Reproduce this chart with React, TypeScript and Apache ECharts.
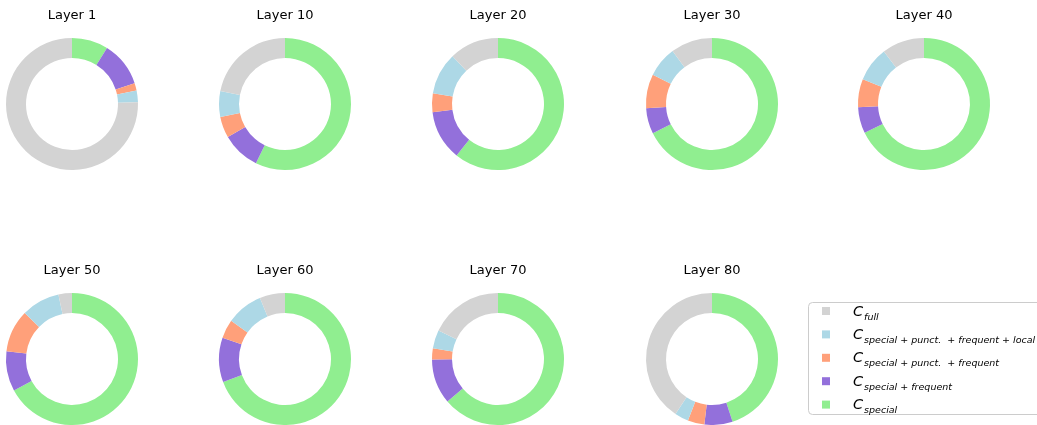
import React, { useEffect, useRef } from "react";
import * as echarts from "echarts";

const layers = ["Layer 1", "Layer 10", "Layer 20", "Layer 30", "Layer 40", "Layer 50", "Layer 60", "Layer 70", "Layer 80"];
const special = [8.9, 57.2, 60.8, 67.7, 67.8, 67.1, 69.4, 63.9, 45.0];
const specialFrequent = [11.0, 9.4, 12.2, 6.3, 6.4, 9.8, 10.9, 11.0, 6.9];
const specialPunctFrequent = [1.8, 5.2, 4.6, 8.3, 6.9, 10.4, 4.6, 2.7, 4.1];
const specialPunctFrequentLocal = [2.9, 6.3, 10.3, 7.5, 8.5, 9.4, 9.0, 4.5, 3.4];
const full = [75.4, 21.8, 12.1, 10.2, 10.4, 3.3, 6.2, 17.9, 40.7];

const categoryNames = ["special", "special+frequent", "special+punct.+frequent", "special+punct.+frequent+local", "full"];
const subscripts: Record<string, string> = {
  "special": "special",
  "special+frequent": "special + frequent",
  "special+punct.+frequent": "special + punct.  + frequent",
  "special+punct.+frequent+local": "special + punct.  + frequent + local",
  "full": "full",
};
const legendOrder = ["full", "special+punct.+frequent+local", "special+punct.+frequent", "special+frequent", "special"];
const colors = ["#90ee90", "#9370db", "#ffa07a", "#add8e6", "#d3d3d3"];

const colX = [72, 285, 498, 712, 924];
const rowY = [104, 359];

export default function App() {
  const ref = useRef<HTMLDivElement>(null);
  useEffect(() => {
    if (!ref.current) return;
    const chart = echarts.init(ref.current, undefined, { renderer: "svg" });
    const seriesValues = [special, specialFrequent, specialPunctFrequent, specialPunctFrequentLocal, full];
    const series: any[] = [];
    const titles: any[] = [];
    layers.forEach((layer, i) => {
      const cx = colX[i % 5];
      const cy = rowY[Math.floor(i / 5)];
      titles.push({
        text: layer,
        left: cx,
        top: cy - 96,
        textAlign: "center",
        padding: 0,
        textStyle: { fontFamily: "DejaVu Sans", fontSize: 13, fontWeight: "normal", color: "#000" },
      });
      series.push({
        type: "pie",
        center: [cx, cy],
        radius: [46, 66],
        startAngle: 90,
        clockwise: true,
        label: { show: false },
        labelLine: { show: false },
        emphasis: { disabled: true },
        itemStyle: { borderWidth: 0 },
        data: categoryNames.map((n, k) => ({ name: n, value: seriesValues[k][i], itemStyle: { color: colors[k] } })),
      });
    });
    chart.setOption({
      animation: false,
      title: titles,
      graphic: [
        {
          type: "rect",
          z: 0,
          shape: { x: 808.5, y: 302.5, width: 240, height: 112, r: 4 },
          style: { fill: "#fff", stroke: "#cccccc", lineWidth: 1 },
        },
      ],
      legend: {
        z: 10,
        orient: "vertical",
        left: 822,
        top: 303,
        padding: 0,
        itemGap: 5.4,
        itemWidth: 8,
        itemHeight: 8,
        icon: "rect",
        selectedMode: false,
        data: legendOrder,
        formatter: (name: string) => `{c|C}{s|${subscripts[name]}}`,
        textStyle: {
          padding: [0, 0, 0, 18],
          rich: {
            c: { fontFamily: "DejaVu Sans", fontStyle: "italic", fontSize: 14.5, color: "#000", lineHeight: 20, verticalAlign: "bottom", padding: [0, 0, 3, 0] },
            s: { fontFamily: "DejaVu Sans", fontStyle: "italic", fontSize: 9.5, color: "#000", lineHeight: 20, verticalAlign: "bottom", padding: [0, 0, 0, 1] },
          },
        },
      },
      series,
    });
    return () => chart.dispose();
  }, []);
  return <div ref={ref} style={{ position: "fixed", left: 0, top: 0, width: 1037, height: 425 }} />;
}
